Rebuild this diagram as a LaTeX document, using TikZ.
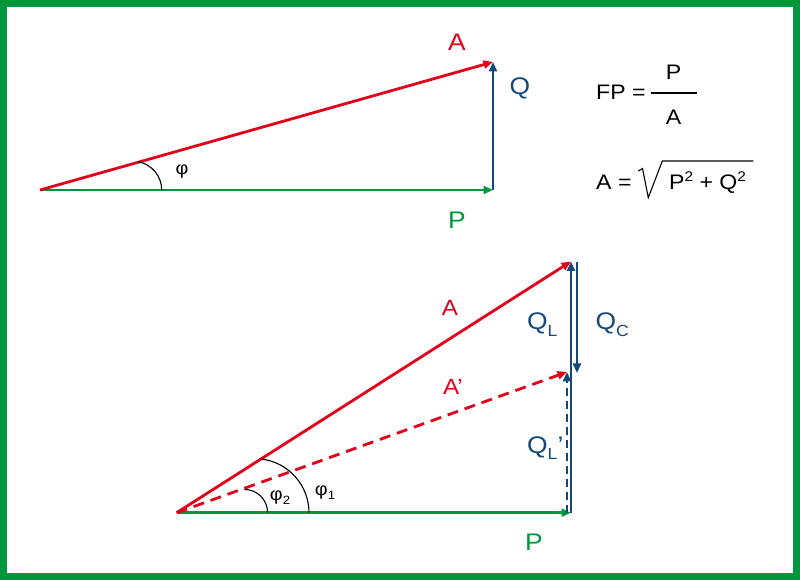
\documentclass[tikz,border=0pt]{standalone}
\usepackage{fontspec}
\setmainfont{Liberation Sans}[FakeStretch=1.1]
\usetikzlibrary{arrows.meta}
\definecolor{pgreen}{RGB}{0,150,62}
\definecolor{ared}{RGB}{226,0,26}
\definecolor{qblue}{RGB}{20,72,122}
\newcommand{\lowsub}[1]{\raisebox{-0.27em}{\fontsize{16}{16}\selectfont #1}}
\newcommand{\phisub}[1]{\raisebox{-0.2em}{\fontsize{12}{12}\selectfont #1}}
\newcommand{\sqr}{\raisebox{0.42em}{\fontsize{14}{14}\selectfont 2}}

\begin{document}
\begin{tikzpicture}[x=1pt, y=1pt,
            > = {Triangle[length=9.5pt,width=8pt]},
phasor/.style = {line width=2.8pt, ->},
vlabel/.style = {inner sep=0pt, font=\fontsize{24}{24}\selectfont},
slabel/.style = {inner sep=0pt, font=\fontsize{22}{22}\selectfont},
qlabel/.style = {inner sep=0pt, qblue, font=\fontsize{24}{24}\selectfont, anchor=base west},
angles/.style = {draw, line width=1.1pt},
  form/.style = {inner sep=0pt, font=\fontsize{21}{21}\selectfont},
 alabel/.style = {inner sep=0pt, font=\fontsize{18}{18}\selectfont}
                        ]
\useasboundingbox (0,0) rectangle (800,580);
\draw[line width=7pt, pgreen] (3.5,3.5) rectangle (796.5,576.5);
% coordinates
\coordinate (O1) at (40,390);
\coordinate (P1) at (493,390);
\coordinate (A1) at (493,518);
\coordinate (O2) at (176.7,67.3);
\coordinate (P2) at (571,67.3);
\coordinate (A2) at (571,318.5);
\coordinate (B2) at (567,67.3);
\coordinate (C2) at (567,208);
\coordinate (D2) at (577,318);
\coordinate (E2) at (577,207);
% phasors
    \draw[phasor, pgreen] (O1) -- (P1);
    \draw[phasor, qblue] (P1) -- (A1);
    \draw[phasor, ared] (O1) -- (A1);
    \node[vlabel, ared] (a1) at (457,538) {A};
    \node[vlabel, qblue] (q1) at (520,492) {Q};
    \node[vlabel, pgreen] (p1) at (457,360) {P};
    \draw[phasor, pgreen] (O2) -- (P2);
    \draw[phasor, qblue] (P2) -- (A2);
    \draw[phasor, qblue, dash pattern=on 8pt off 5pt] (B2) -- (C2);
    \draw[phasor, qblue] (D2) -- (E2);
    \draw[phasor, ared] (O2) -- (A2);
    \draw[phasor, ared, dash pattern=on 11pt off 7pt] (O2) -- (C2);
    \node[slabel, ared] (a2) at (450,272) {A};
    \node[slabel, ared] (a3) at (453,193) {A’};
    \node[vlabel, pgreen] (p2) at (534,38) {P};
    \node[qlabel] (ql) at (527,250) {Q\lowsub{L}};
    \node[qlabel] (qc) at (595.5,250) {Q\lowsub{C}};
    \node[qlabel] (qlp) at (527,126.7) {Q\lowsub{L}’};
% angles
\draw[angles] (132.9,390) ++(79:28.8) arc[start angle=79, end angle=0, radius=28.8];
\draw[angles] (255,67.3) ++(83:54) arc[start angle=83, end angle=0, radius=54];
\draw[angles] (244.3,67.3) ++(90:23.3) arc[start angle=90, end angle=0, radius=23.3];
\node[alabel] (phi) at (182,408) {φ};
\node[alabel] (phi2) at (280,82) {φ\phisub{2}};
\node[alabel] (phi1) at (325,87) {φ\phisub{1}};
% formulas
\node[form, anchor=base west] (fp) at (596,480) {FP =};
\node[form] (fpn) at (673.5,507.5) {P};
\node[form] (fpd) at (673.5,463) {A};
\draw[line width=1.1pt] (650.5,487) -- (697,487);
\node[form, anchor=base west] (aeq) at (596,390) {A =};
\node[form, anchor=base west] (pq) at (669,390) {P\sqr{} + Q\sqr};
\draw[line width=1.1pt] (638.3,409) -- (642.5,411.5) -- (648.3,382.3) -- (662.3,419) -- (753.3,419);
\end{tikzpicture}
\end{document}
